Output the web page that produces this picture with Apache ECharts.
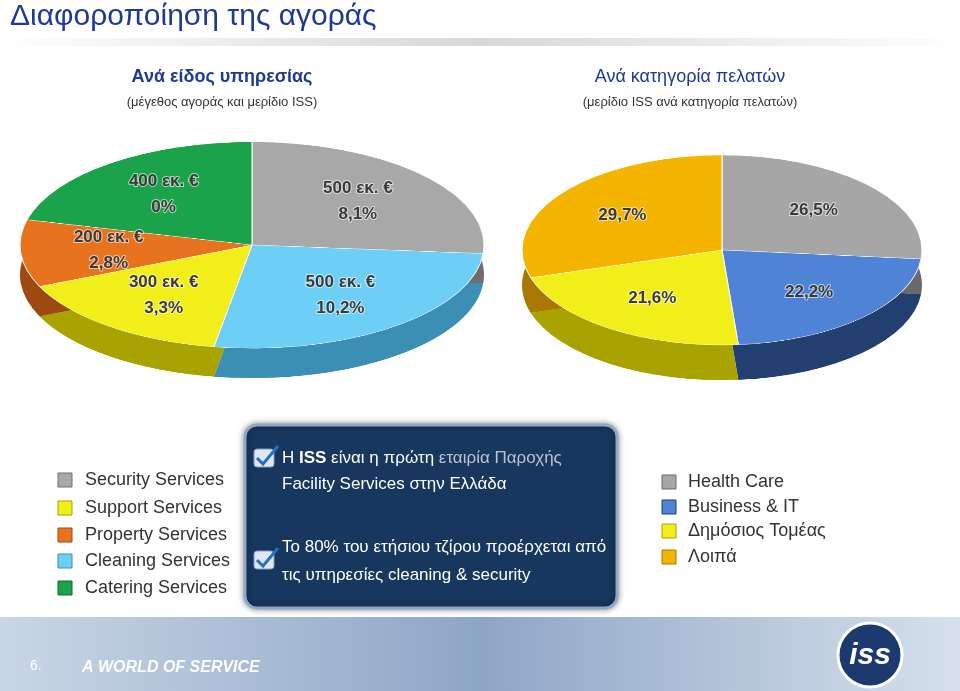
<!DOCTYPE html>
<html><head><meta charset="utf-8">
<script src="https://cdn.jsdelivr.net/npm/echarts@6/dist/echarts.min.js"></script>
<style>
body{margin:0;width:960px;height:691px;overflow:hidden;background:#fff;font-family:Arial,"Liberation Sans",sans-serif}
.pie{position:absolute;transform-origin:50% 240px;height:640px}
#main{position:absolute;left:0;top:0;width:960px;height:691px;pointer-events:none}
</style></head><body>
<div id="pieL" class="pie" style="left:20px;top:5px;width:464px;transform:scaleY(0.445)"></div>
<div id="pieR" class="pie" style="left:522px;top:10px;width:400px;transform:scaleY(0.475)"></div>
<div id="main"></div>
<script>
// αριστερή πίτα: μέγεθος αγοράς (εκ. €) και μερίδιο ISS
var servNames = ['Security Services', 'Cleaning Services', 'Support Services', 'Property Services', 'Catering Services'];
var servMarket = [500, 500, 300, 200, 400];
var servShare = ['8,1%', '10,2%', '3,3%', '2,8%', '0%'];
var servColors = ['#a8a8a8', '#6dcff6', '#f2ee1a', '#e8731e', '#1aa34a'];
var servDark = ['#6e6e6e', '#3b8fb5', '#a8a300', '#9c4a10', '#0d6b2f'];

// δεξιά πίτα: μερίδιο ανά κατηγορία πελατών
var custNames = ['Health Care', 'Business & IT', 'Δημόσιος Τομέας', 'Λοιπά'];
var custShare = [26.5, 22.2, 21.6, 29.7];
var custColors = ['#a6a6a6', '#4f83d6', '#f2ee1a', '#f5b400'];
var custDark = ['#6a6a6a', '#223f70', '#a8a300', '#a87800'];

function pieOpt(vals, cols, dark, r, depth) {
  var d1 = vals.map(function (v, i) { return { value: v, itemStyle: { color: cols[i] } }; });
  var d2 = vals.map(function (v, i) { return { value: v, itemStyle: { color: dark[i] } }; });
  return {
    animation: false,
    series: [
      { type: 'pie', radius: r, center: ['50%', 240 + depth], silent: true, label: { show: false }, data: d2 },
      { type: 'pie', radius: r, center: ['50%', 240], silent: true, label: { show: false },
        itemStyle: { borderColor: '#fff', borderWidth: 1 }, data: d1 }
    ]
  };
}
echarts.init(document.getElementById('pieL')).setOption(pieOpt(servMarket, servColors, servDark, 232, 67));
echarts.init(document.getElementById('pieR')).setOption(pieOpt(custShare, custColors, custDark, 200, 74));

// θέσεις ετικετών από τις γωνίες των τομέων
function labelsFor(vals, texts, cx, cy, rx, ry, k) {
  var sum = vals.reduce(function (a, b) { return a + b; }, 0), acc = 0, out = [];
  vals.forEach(function (v, i) {
    var f = (acc + v / 2) / sum; acc += v;
    var th = (90 - 360 * f) * Math.PI / 180;
    out.push({ type: 'text', x: cx + rx * k * Math.cos(th), y: cy - ry * k * Math.sin(th),
      style: { text: texts[i], fill: '#3a3a3a', font: 'bold 17px Arial', align: 'center', verticalAlign: 'middle',
        lineHeight: 26, stroke: 'rgba(255,255,255,0.6)', lineWidth: 2 } });
  });
  return out;
}
var g = [];
g.push({ type: 'rect', shape: { x: 0, y: 38, width: 960, height: 8 }, style: { fill: new echarts.graphic.LinearGradient(0, 0, 1, 0, [{ offset: 0, color: '#fff' }, { offset: 0.5, color: '#d8d8d8' }, { offset: 1, color: '#fff' }]) } });
g.push({ type: 'text', x: 10, y: 2, style: { text: 'Διαφοροποίηση της αγοράς', font: '30px Arial', fill: '#1f3a93' } });
g.push({ type: 'text', x: 222, y: 77, style: { text: 'Ανά είδος υπηρεσίας', font: 'bold 18px Arial', fill: '#1f3a93', align: 'center', verticalAlign: 'middle' } });
g.push({ type: 'text', x: 222, y: 102, style: { text: '(μέγεθος αγοράς και μερίδιο ISS)', font: '13px Arial', fill: '#333', align: 'center', verticalAlign: 'middle' } });
g.push({ type: 'text', x: 690, y: 77, style: { text: 'Ανά κατηγορία πελατών', font: '18px Arial', fill: '#1f3a93', align: 'center', verticalAlign: 'middle' } });
g.push({ type: 'text', x: 690, y: 102, style: { text: '(μερίδιο ISS ανά κατηγορία πελατών)', font: '13px Arial', fill: '#333', align: 'center', verticalAlign: 'middle' } });

g = g.concat(labelsFor(servMarket, servMarket.map(function (v, i) { return v + ' εκ. €\n' + servShare[i]; }), 252, 245, 232, 103, 0.62));
g = g.concat(labelsFor(custShare, custShare.map(function (v) { return v.toFixed(1).replace('.', ',') + '%'; }), 722, 250, 200, 95, 0.62));

// υπόμνημα αριστερά
var legOrder = [0, 2, 3, 1, 4];
var legY = [480, 508, 535, 561, 588];
legOrder.forEach(function (idx, j) {
  g.push({ type: 'rect', shape: { x: 58, y: legY[j] - 7, width: 14, height: 14 }, style: { fill: servColors[idx], stroke: servDark[idx] } });
  g.push({ type: 'text', x: 85, y: legY[j], style: { text: servNames[idx], font: '18px Arial', fill: '#333', verticalAlign: 'middle' } });
});
// υπόμνημα δεξιά
var legY2 = [482, 507, 531, 557];
custNames.forEach(function (n, j) {
  g.push({ type: 'rect', shape: { x: 662, y: legY2[j] - 7, width: 14, height: 14 }, style: { fill: custColors[j], stroke: custDark[j] } });
  g.push({ type: 'text', x: 688, y: legY2[j], style: { text: n, font: '18px Arial', fill: '#333', verticalAlign: 'middle' } });
});

// κεντρικό πλαίσιο
g.push({ type: 'rect', shape: { x: 245, y: 425, width: 372, height: 183, r: 12 }, style: { fill: '#17375e', stroke: '#8fa8c8', lineWidth: 3, shadowBlur: 6, shadowColor: 'rgba(0,0,0,0.4)' } });
[458, 560].forEach(function (y) {
  g.push({ type: 'rect', shape: { x: 254, y: y - 9, width: 20, height: 18, r: 3 }, style: { fill: '#dfe8f2', stroke: '#7a9cc6' } });
  g.push({ type: 'polyline', shape: { points: [[257, y], [263, y + 6], [278, y - 12]] }, style: { stroke: '#2a6fc0', lineWidth: 3, fill: 'none' } });
});
g.push({ type: 'text', x: 282, y: 458, style: { rich: { b: { font: 'bold 17px Arial', fill: '#fff' }, n: { font: '17px Arial', fill: '#fff' }, h: { font: '17px Arial', fill: '#b8c4d4' } }, text: '{n|Η }{b|ISS}{n| είναι η πρώτη }{h|εταιρία Παροχής}', verticalAlign: 'middle' } });
g.push({ type: 'text', x: 282, y: 484, style: { text: 'Facility Services στην Ελλάδα', font: '17px Arial', fill: '#fff', verticalAlign: 'middle' } });
g.push({ type: 'text', x: 282, y: 547, style: { text: 'Το 80% του ετήσιου τζίρου προέρχεται από', font: '17px Arial', fill: '#fff', verticalAlign: 'middle' } });
g.push({ type: 'text', x: 282, y: 575, style: { text: 'τις υπηρεσίες cleaning & security', font: '17px Arial', fill: '#fff', verticalAlign: 'middle' } });

// υποσέλιδο
g.push({ type: 'rect', shape: { x: 0, y: 617, width: 960, height: 74 }, style: { fill: new echarts.graphic.LinearGradient(0, 0, 1, 0, [{ offset: 0, color: '#c9d6e6' }, { offset: 0.5, color: '#8ea6c6' }, { offset: 1, color: '#d6e0ec' }]) } });
g.push({ type: 'text', x: 30, y: 666, style: { text: '6.', font: '14px Arial', fill: '#fff', verticalAlign: 'middle' } });
g.push({ type: 'text', x: 82, y: 668, style: { text: 'A WORLD OF SERVICE', font: 'italic bold 16px Arial', fill: '#fff', verticalAlign: 'middle' } });
g.push({ type: 'circle', shape: { cx: 870, cy: 655, r: 32 }, style: { fill: '#1d3a6e', stroke: '#fff', lineWidth: 3 } });
g.push({ type: 'text', x: 870, y: 656, style: { text: 'iss', font: 'italic bold 30px Arial', fill: '#fff', align: 'center', verticalAlign: 'middle' } });

echarts.init(document.getElementById('main')).setOption({ animation: false, graphic: g });
</script>
</body></html>
